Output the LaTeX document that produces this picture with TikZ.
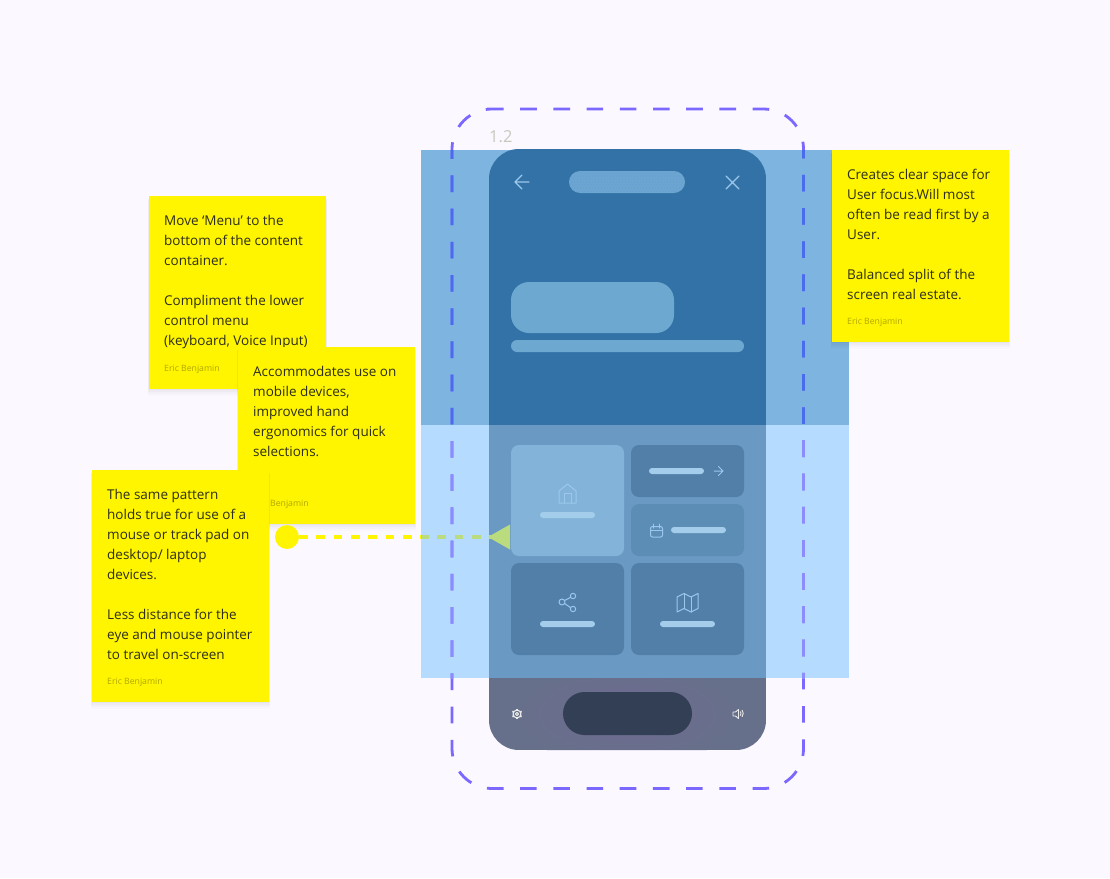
\documentclass[tikz,border=0pt]{standalone}
\usepackage{fontspec}
\setmainfont{Open Sans}
\definecolor{bg}{HTML}{FCF8FF}
\definecolor{bandtop}{HTML}{7DB4E0}
\definecolor{bandlow}{HTML}{B5DCFF}
\definecolor{phonetop}{HTML}{3272A6}
\definecolor{phonelow}{HTML}{6A9AC4}
\definecolor{phonebot}{HTML}{66708A}
\definecolor{glow}{HTML}{716A92}
\definecolor{pilldark}{HTML}{333F55}
\definecolor{tiledark}{HTML}{517FA8}
\definecolor{tilemid}{HTML}{5C8DB5}
\definecolor{tilelight}{HTML}{83B3D9}
\definecolor{barlight}{HTML}{A3CDEB}
\definecolor{herofill}{HTML}{6DA8D1}
\definecolor{iconlight}{HTML}{9CC7EC}
\definecolor{stickyy}{HTML}{FFF500}
\definecolor{inktext}{HTML}{2E2E1A}
\definecolor{authorc}{HTML}{B0A800}
\definecolor{dashc}{HTML}{7B68FF}
\definecolor{dashtop}{HTML}{4A6BEE}
\definecolor{dashlow}{HTML}{8C8CFF}
\definecolor{conngreen}{HTML}{BBDC7E}
\definecolor{labelc}{HTML}{C6C9BE}
\definecolor{pilldots}{HTML}{5F8FE0}
\definecolor{pillfill}{HTML}{6BA5D0}
\tikzset{
  x=1pt,y=-1pt,
  sticky/.style={fill=stickyy,draw=none,anchor=north west,inner sep=0pt,outer sep=0pt},
  notetext/.style={anchor=north west,inner sep=0pt,align=left,text=inktext,font=\fontsize{13.5}{20}\selectfont},
  author/.style={anchor=west,inner sep=0pt,text=authorc,font=\fontsize{8.7}{11}\selectfont},
  icon/.style={draw=iconlight,line width=1pt,fill=none,line cap=round,line join=round},
  whiteicon/.style={draw=white!92!black,line width=1.1pt,fill=none,line join=round},
  dashframe/.style={line width=2.8pt,dash pattern=on 16.6pt off 16.6pt,rounded corners=40pt},
  conn/.style={line width=4.5pt,dash pattern=on 8.7pt off 8.6pt},
}
\newcommand{\softshadow}[4]{%
  \foreach \dd/\oo in {7/.012,5/.018,3/.025,1/.03}{%
    \fill[black,opacity=\oo] (#1-\dd*0.2,#2+3) rectangle (#3+\dd*0.2,#4+\dd);}}
\newcommand{\framepath}{(487,109) -- (803.5,109) -- (803.5,788.5) -- (452,788.5) -- (452,109) -- (487,109)}
\begin{document}
\begin{tikzpicture}
\useasboundingbox (0,0) rectangle (1110,878);
\fill[bg] (0,0) rectangle (1110,878);
% bands
\fill[bandtop] (421,150) rectangle (849,425);
\fill[bandlow] (421,425) rectangle (849,678);
% phone
\begin{scope}
  \clip[rounded corners=30pt] (489,149) rectangle (766,750);
  \fill[phonetop] (489,149) rectangle (766,425);
  \fill[phonelow] (489,425) rectangle (766,678);
  \fill[phonebot] (489,678) rectangle (766,750);
  \begin{scope}
    \clip (489,678) rectangle (766,750);
    \shade[inner color=glow,outer color=phonebot] (627,714) ellipse [x radius=115,y radius=50];
  \end{scope}
\end{scope}
% dashed frame
\draw[dashframe,dashc] \framepath;
\begin{scope}
  \clip (421,150) rectangle (849,425);
  \draw[dashframe,dashtop] \framepath;
\end{scope}
\begin{scope}
  \clip (421,425) rectangle (849,678);
  \draw[dashframe,dashlow] \framepath;
\end{scope}
\node[anchor=west,inner sep=0pt,text=labelc,font=\fontsize{16.5}{18}\selectfont] (framelabel) at (489,137) {1.2};
% header controls
\draw[icon,line width=1.3pt] (529,182) -- (515,182) (522,175) -- (515,182) -- (522,189);
\draw[icon,line width=1.3pt] (726,176) -- (739,189) (739,176) -- (726,189);
\fill[pillfill,rounded corners=11pt] (569,171) rectangle (685,193);
\begin{scope}
  \clip[rounded corners=11pt] (569,171) rectangle (685,193);
  \foreach \rowa in {0,2,4,6}{\foreach \cola in {0,...,38}{%
    \fill[pilldots] (570+\cola*3,173+\rowa*3) circle (.45);}}
  \foreach \rowa in {1,3,5}{\foreach \cola in {0,...,38}{%
    \fill[pilldots] (571.5+\cola*3,173+\rowa*3) circle (.45);}}
\end{scope}
\fill[herofill,rounded corners=18pt] (511,282) rectangle (674,333);
\fill[herofill,rounded corners=6pt] (511,340) rectangle (744,352);
% tiles
\fill[tilelight,rounded corners=8pt] (511,445) rectangle (624,556);
\fill[tiledark,rounded corners=8pt] (631,445) rectangle (744,497);
\fill[tilemid,rounded corners=8pt] (631,504) rectangle (744,556);
\fill[tiledark,rounded corners=8pt] (511,563) rectangle (624,655);
\fill[tiledark,rounded corners=8pt] (631,563) rectangle (744,655);
\foreach \xa/\ya/\xb/\yb in {540/512/595/518,649/468/704/474,671/527/726/533,540/621/595/627,660/621/715/627}{%
  \fill[barlight,rounded corners=3pt] (\xa,\ya) rectangle (\xb,\yb);}
% tile icons
\draw[icon] (559,491) -- (567.5,484) -- (576,491) -- (576,503) -- (559,503) -- cycle;
\draw[icon] (564,503) -- (564,493.5) -- (571,493.5) -- (571,503);
\draw[icon] (714,471) -- (723,471) (718.5,466.5) -- (723,471) -- (718.5,475.5);
\draw[icon,rounded corners=2pt] (650.5,526.5) rectangle (662.5,537);
\draw[icon] (650.5,530) -- (662.5,530) (653.5,524) -- (653.5,528) (659.5,524) -- (659.5,528);
\draw[icon] (562,602) circle (3) (573,596) circle (2.7) (573,609) circle (2.7);
\draw[icon] (564.6,600.5) -- (570.6,597.3) (564.6,603.5) -- (570.6,607.7);
\draw[icon] (677,597) -- (684,593.5) -- (691,597) -- (698,593.5) -- (698,608.5) -- (691,612) -- (684,608.5) -- (677,612) -- cycle;
\draw[icon] (684,593.5) -- (684,608.5) (691,597) -- (691,612);
% bottom controls
\fill[pilldark,rounded corners=21.5pt] (563,692) rectangle (692,735);
\draw[whiteicon] (517,714) circle (1.6);
\draw[whiteicon] (517,714) circle (3.9);
\foreach \ang in {30,90,...,330}{\draw[whiteicon,line width=1.7pt] (517,714) ++(\ang:3.9) -- ++(\ang:1.4);}
\draw[whiteicon,line width=.9pt] (733,712) -- (735.5,712) -- (738.5,709.5) -- (738.5,718.5) -- (735.5,716) -- (733,716) -- cycle;
\draw[whiteicon,line width=.9pt] (740.3,711.5) arc (-40:40:3.2) (742,710) arc (-40:40:5.3);
% stickies
\softshadow{149}{196}{326}{389}
\node[sticky,minimum width=177pt,minimum height=193pt] (noteA) at (149,196) {};
\node[notetext] (noteAtext) at (164,215) {Move ‘Menu’ to the\\bottom of the content\\container.\\\mbox{}\\Compliment the lower\\control menu\\(keyboard, Voice Input)};
\node[author] (noteAauthor) at (164,369) {Eric Benjamin};
\softshadow{238}{347}{415}{524}
\node[sticky,minimum width=177pt,minimum height=177pt] (noteB) at (238,347) {};
\node[notetext] (noteBtext) at (253,366) {Accommodates use on\\mobile devices,\\improved hand\\ergonomics for quick\\selections.};
\node[author] (noteBauthor) at (253,504) {Eric Benjamin};
% connector
\coordinate (tipbase) at (510,537);
\node[circle,fill=stickyy,minimum size=24pt,inner sep=0pt,outer sep=0pt] (dot) at (287,537) {};
\draw[conn,stickyy] (dot.east) -- (tipbase);
\begin{scope}
  \clip (421,500) rectangle (510,570);
  \draw[conn,conngreen] (dot.east) -- (tipbase);
\end{scope}
\fill[conngreen] (488,537) -- (510,524.5) -- (510,549.5) -- cycle;
\softshadow{92}{470}{269}{702}
\node[sticky,minimum width=177pt,minimum height=232pt] (noteC) at (92,470) {};
\node[notetext] (noteCtext) at (107,489) {The same pattern\\holds true for use of a\\mouse or track pad on\\desktop/ laptop\\devices.\\\mbox{}\\Less distance for the\\eye and mouse pointer\\to travel on-screen};
\node[author] (noteCauthor) at (107,682) {Eric Benjamin};
\softshadow{832}{150}{1009}{342}
\node[sticky,minimum width=177pt,minimum height=192pt] (noteD) at (832,150) {};
\node[notetext] (noteDtext) at (847,169) {Creates clear space for\\User focus.Will most\\often be read first by a\\User.\\\mbox{}\\Balanced split of the\\screen real estate.};
\node[author] (noteDauthor) at (847,322) {Eric Benjamin};
\end{tikzpicture}
\end{document}
